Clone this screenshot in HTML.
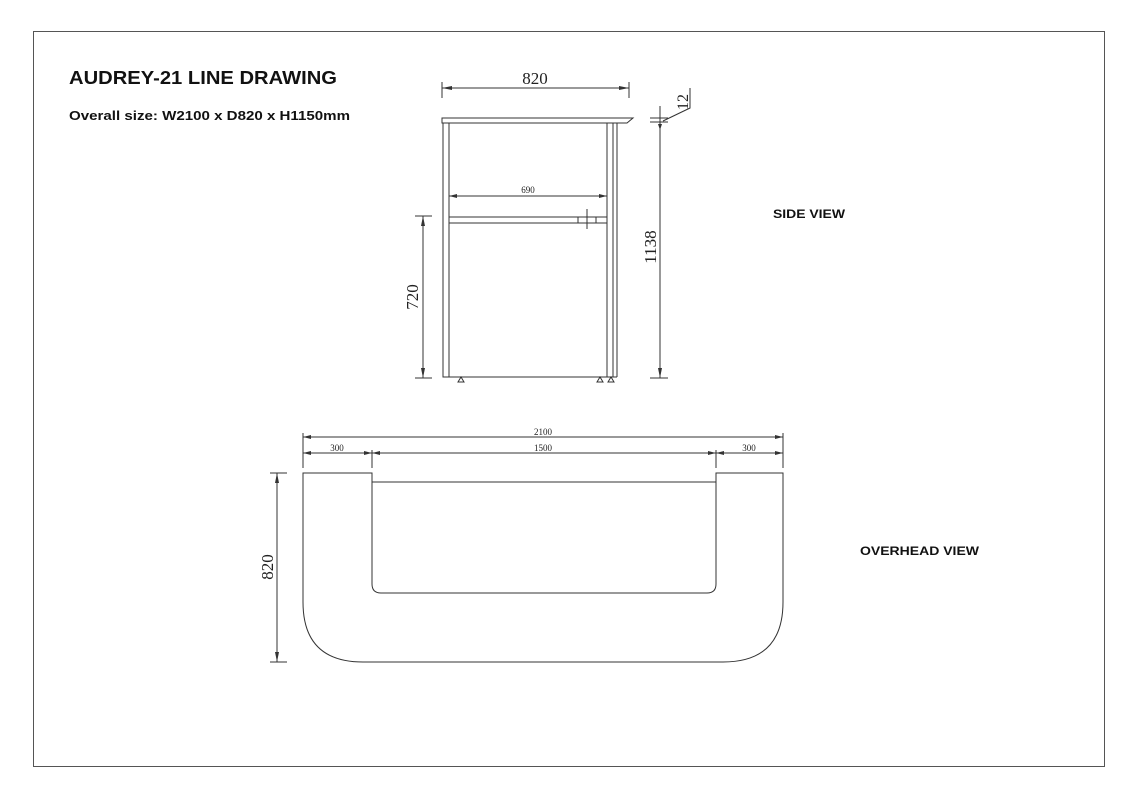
<!DOCTYPE html>
<html><head><style>
html,body{margin:0;padding:0;background:#fff;}
svg{display:block;}
</style></head><body>
<svg width="1132" height="798" viewBox="0 0 1132 798" xmlns="http://www.w3.org/2000/svg" font-family="Liberation Serif, serif">
<rect x="0" y="0" width="1132" height="798" fill="#fff"/>
<rect x="33.5" y="31.5" width="1071" height="735" fill="none" stroke="#555" stroke-width="1"/>
<text x="69" y="84" font-family="Liberation Sans, sans-serif" font-weight="bold" font-size="18" fill="#111" textLength="268" lengthAdjust="spacingAndGlyphs">AUDREY-21 LINE DRAWING</text>
<text x="69" y="120" font-family="Liberation Sans, sans-serif" font-weight="bold" font-size="13" fill="#111" textLength="281" lengthAdjust="spacingAndGlyphs">Overall size: W2100 x D820 x H1150mm</text>
<text x="773" y="218" font-family="Liberation Sans, sans-serif" font-weight="bold" font-size="12" fill="#111" textLength="72" lengthAdjust="spacingAndGlyphs">SIDE VIEW</text>
<text x="860" y="555" font-family="Liberation Sans, sans-serif" font-weight="bold" font-size="12" fill="#111" textLength="119" lengthAdjust="spacingAndGlyphs">OVERHEAD VIEW</text>
<g stroke="#333" stroke-width="1" fill="none">
<path d="M442 118 L633 118 L627 123 L442 123 Z"/>
<rect x="443" y="123" width="6" height="254"/>
<path d="M607 123 V377 M613 123 V377 M617 123 V377" />
<line x1="443" y1="377" x2="617" y2="377"/>
<rect x="449" y="217" width="158" height="6"/>
<rect x="578" y="217" width="18" height="6"/>
<line x1="587" y1="209" x2="587" y2="229"/>
<line x1="449" y1="196" x2="607" y2="196"/>
<line x1="449" y1="192" x2="449" y2="200"/><line x1="607" y1="192" x2="607" y2="200"/>
<line x1="442" y1="88" x2="629" y2="88"/>
<line x1="442" y1="82" x2="442" y2="98"/><line x1="629" y1="82" x2="629" y2="98"/>
<line x1="660" y1="118" x2="660" y2="378"/>
<line x1="650" y1="118" x2="668" y2="118"/><line x1="650" y1="122" x2="668" y2="122"/><line x1="650" y1="378" x2="668" y2="378"/>
<line x1="660" y1="106" x2="660" y2="130"/>
<polyline points="663,121 690,108 690,88"/>
<line x1="423" y1="216" x2="423" y2="378"/>
<line x1="415" y1="216" x2="432" y2="216"/><line x1="415" y1="378" x2="432" y2="378"/>
<path d="M303 473 H372 V584 Q372 593 381 593 H707 Q716 593 716 584 V473 H783 V602 Q783 662 723 662 H363 Q303 662 303 602 Z"/>
<line x1="372" y1="482" x2="716" y2="482"/>
<line x1="303" y1="437" x2="783" y2="437"/>
<line x1="303" y1="453" x2="783" y2="453"/>
<line x1="303" y1="433" x2="303" y2="468"/><line x1="783" y1="433" x2="783" y2="468"/>
<line x1="372" y1="450" x2="372" y2="468"/><line x1="716" y1="450" x2="716" y2="468"/>
<line x1="277" y1="473" x2="277" y2="662"/>
<line x1="270" y1="473" x2="287" y2="473"/><line x1="270" y1="662" x2="287" y2="662"/>
</g>
<g fill="#333">
<polygon points="442,88 452,86 452,90"/><polygon points="629,88 619,86 619,90"/>
<polygon points="449,196 457,194 457,198"/><polygon points="607,196 599,194 599,198"/>
<polygon points="660,378 658,368 662,368"/><polygon points="660,130 658,124 662,124"/>
<polygon points="423,216 421,226 425,226"/><polygon points="423,378 421,368 425,368"/>
<polygon points="303,437 311,435 311,439"/><polygon points="783,437 775,435 775,439"/>
<polygon points="303,453 311,451 311,455"/><polygon points="372,453 364,451 364,455"/><polygon points="372,453 380,451 380,455"/>
<polygon points="716,453 708,451 708,455"/><polygon points="716,453 724,451 724,455"/><polygon points="783,453 775,451 775,455"/>
<polygon points="277,473 275,483 279,483"/><polygon points="277,662 275,652 279,652"/>
</g>
<g fill="none" stroke="#333"><polygon points="461,377 458,382 464,382" /><polygon points="600,377 597,382 603,382"/><polygon points="611,377 608,382 614,382"/></g>
<g fill="#222">
<text x="535" y="84" font-size="17" text-anchor="middle">820</text>
<text x="528" y="193" font-size="9" text-anchor="middle">690</text>
<text transform="translate(688,102) rotate(-90)" font-size="16" text-anchor="middle">12</text>
<text transform="translate(656,247) rotate(-90)" font-size="17" text-anchor="middle">1138</text>
<text transform="translate(418,297) rotate(-90)" font-size="17" text-anchor="middle">720</text>
<text x="543" y="435" font-size="9" text-anchor="middle">2100</text>
<text x="337" y="451" font-size="9" text-anchor="middle">300</text>
<text x="543" y="451" font-size="9" text-anchor="middle">1500</text>
<text x="749" y="451" font-size="9" text-anchor="middle">300</text>
<text transform="translate(273,567) rotate(-90)" font-size="17" text-anchor="middle">820</text>
</g>
</svg>
</body></html>
